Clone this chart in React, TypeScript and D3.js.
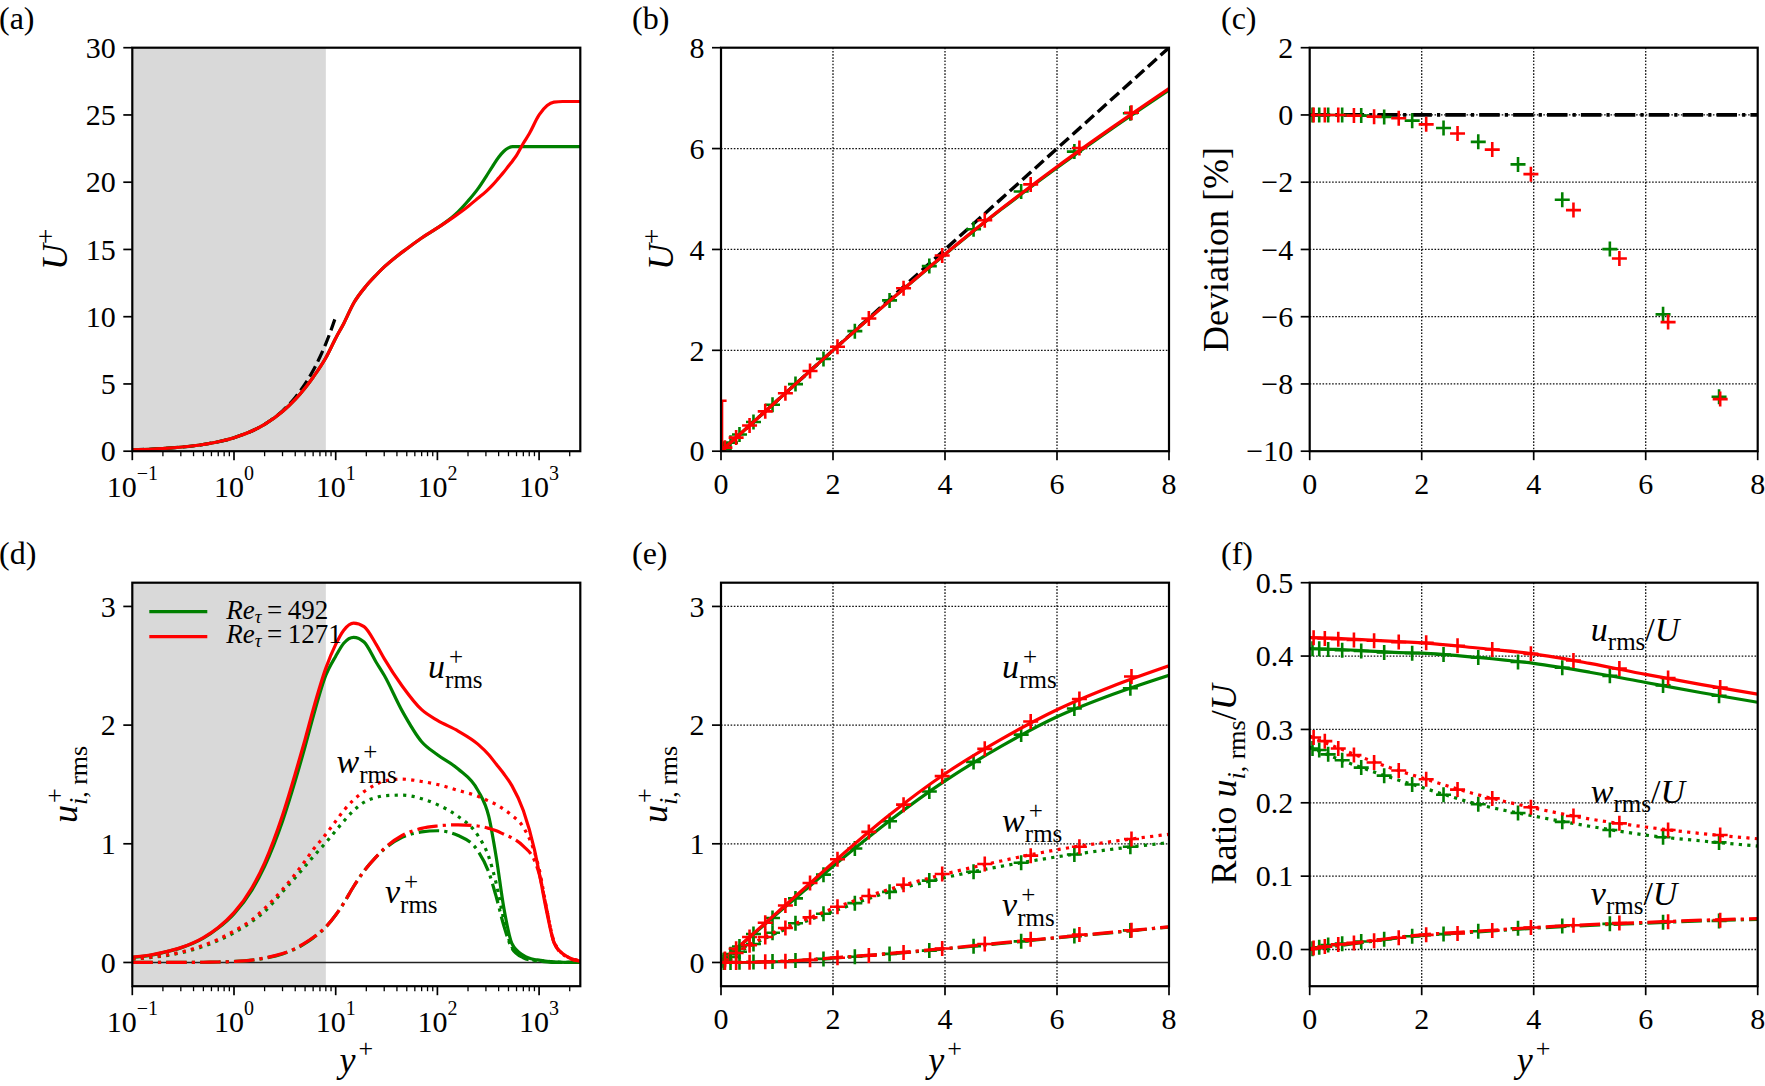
import React from 'react';
import * as d3 from 'd3';

// ================= DATA =================
// (a) mean velocity, log y+
const aYp = [0.1, 0.2, 0.5, 1, 2, 3, 4, 5, 6, 8, 10, 12, 15, 20, 25, 30, 40, 50, 70, 100, 150, 200, 250, 300, 350, 400, 450, 500, 550, 600, 700, 800, 1000, 1200, 1400, 1700, 2000, 2542];
const aU1271 = [0.1, 0.2, 0.5, 1.0, 1.99, 2.95, 3.85, 4.7, 5.5, 6.95, 8.4, 9.5, 11.0, 12.3, 13.1, 13.7, 14.5, 15.05, 15.85, 16.6, 17.5, 18.2, 18.8, 19.3, 19.8, 20.3, 20.75, 21.2, 21.6, 22.0, 22.9, 23.6, 25.0, 25.7, 25.95, 26.0, 26.0, 26.0];
const aU492 = [0.1, 0.2, 0.5, 1.0, 1.99, 2.95, 3.85, 4.7, 5.5, 6.95, 8.4, 9.5, 11.0, 12.3, 13.1, 13.7, 14.5, 15.05, 15.85, 16.6, 17.6, 18.6, 19.5, 20.4, 21.2, 21.85, 22.3, 22.55, 22.65, 22.65, 22.65, 22.65, 22.65, 22.65, 22.65, 22.65, 22.65, 22.65];
const sublayerY = [0.1, 0.2, 0.5, 1, 2, 3, 4, 5, 6, 7, 8, 9, 9.8];
const sublayerU = [0.1, 0.2, 0.5, 1, 2, 3, 4, 5, 6, 7, 8, 9, 9.8];

// (b) mean velocity, linear y+
const bY = [0, 1, 2, 3, 4, 5, 6, 7, 8];
const bU1271 = [0, 1.0, 2.0, 2.97, 3.91, 4.8, 5.64, 6.43, 7.19];
const bU492 = [0, 1.0, 2.0, 2.97, 3.9, 4.79, 5.62, 6.41, 7.16];
const bRefY = [0, 8];
const bRefU = [0, 8];
const bWallY = [0.1, 0.02, 0.02];
const bWallU = [1.0, 1.0, 0];

// grid-point markers
const mY492 = [0.05, 0.17, 0.33, 0.58, 0.92, 1.33, 1.83, 2.39, 3.01, 3.72, 4.51, 5.36, 6.31, 7.31];
const mY1271 = [0.07, 0.27, 0.51, 0.79, 1.15, 1.59, 2.08, 2.64, 3.26, 3.95, 4.71, 5.53, 6.4, 7.33];
const mU492 = [0.05, 0.17, 0.33, 0.58, 0.92, 1.33, 1.83, 2.38, 2.99, 3.67, 4.4, 5.15, 5.94, 6.7];
const mU1271 = [0.07, 0.27, 0.51, 0.79, 1.15, 1.59, 2.07, 2.63, 3.23, 3.88, 4.58, 5.29, 6.01, 6.71];

// (c) deviation [%]
const dev492 = [0, 0, 0, 0, -0.02, -0.06, -0.17, -0.39, -0.8, -1.47, -2.52, -3.99, -5.93, -8.38];
const dev1271 = [0, 0, 0, -0.02, -0.05, -0.1, -0.28, -0.55, -1.03, -1.76, -2.83, -4.27, -6.16, -8.45];
const cRefY = [0, 8];
const cRefDev = [0, 0];

// (d) rms, log y+
const dYp = [0.1, 0.15, 0.2, 0.3, 0.5, 0.7, 1, 1.5, 2, 3, 4, 5, 6, 8, 10, 12, 15, 19, 25, 30, 45, 70, 100, 160, 250, 320, 380, 450, 540, 700, 900, 1000, 1200, 1400, 1800, 2542];
const dU1271 = [0.045, 0.063, 0.085, 0.125, 0.21, 0.295, 0.42, 0.63, 0.84, 1.24, 1.59, 1.88, 2.13, 2.48, 2.68, 2.8, 2.86, 2.83, 2.68, 2.56, 2.33, 2.13, 2.04, 1.95, 1.84, 1.75, 1.67, 1.59, 1.49, 1.28, 0.95, 0.76, 0.41, 0.17, 0.06, 0.01];
const dU492 = [0.043, 0.06, 0.083, 0.123, 0.205, 0.29, 0.41, 0.61, 0.81, 1.19, 1.53, 1.82, 2.07, 2.42, 2.58, 2.69, 2.74, 2.7, 2.53, 2.42, 2.12, 1.86, 1.75, 1.63, 1.45, 1.23, 0.88, 0.46, 0.16, 0.06, 0.025, 0.02, 0.01, 0.005, 0.0, 0.0];
const dW1271 = [0.029, 0.044, 0.058, 0.087, 0.145, 0.195, 0.265, 0.36, 0.455, 0.615, 0.745, 0.855, 0.95, 1.08, 1.19, 1.28, 1.37, 1.44, 1.5, 1.53, 1.545, 1.525, 1.5, 1.45, 1.4, 1.36, 1.33, 1.29, 1.24, 1.14, 0.93, 0.79, 0.43, 0.18, 0.06, 0.015];
const dW492 = [0.027, 0.041, 0.054, 0.081, 0.135, 0.185, 0.25, 0.345, 0.43, 0.595, 0.715, 0.81, 0.89, 1.01, 1.11, 1.19, 1.28, 1.35, 1.39, 1.405, 1.41, 1.38, 1.33, 1.23, 1.07, 0.89, 0.66, 0.36, 0.13, 0.045, 0.02, 0.015, 0.01, 0.005, 0.0, 0.0];
const dV1271 = [0, 0, 0.0005, 0.001, 0.002, 0.004, 0.008, 0.02, 0.038, 0.075, 0.118, 0.165, 0.21, 0.3, 0.4, 0.5, 0.64, 0.77, 0.89, 0.96, 1.07, 1.13, 1.15, 1.16, 1.15, 1.13, 1.11, 1.08, 1.05, 0.98, 0.86, 0.75, 0.43, 0.17, 0.055, 0.01];
const dV492 = [0, 0, 0.0005, 0.001, 0.002, 0.004, 0.008, 0.019, 0.036, 0.072, 0.114, 0.16, 0.207, 0.298, 0.4, 0.5, 0.64, 0.77, 0.89, 0.955, 1.055, 1.1, 1.11, 1.07, 0.94, 0.76, 0.55, 0.31, 0.12, 0.04, 0.015, 0.01, 0.005, 0.0, 0.0, 0.0];

// (e) rms, linear y+
const eY = [0, 0.5, 1, 1.5, 2, 3, 4, 5, 6, 7, 8];
const eU1271 = [0, 0.21, 0.42, 0.63, 0.84, 1.24, 1.59, 1.88, 2.13, 2.33, 2.5];
const eU492 = [0, 0.205, 0.41, 0.61, 0.81, 1.19, 1.53, 1.82, 2.07, 2.26, 2.42];
const eW1271 = [0, 0.145, 0.265, 0.36, 0.455, 0.615, 0.745, 0.855, 0.95, 1.02, 1.08];
const eW492 = [0, 0.135, 0.25, 0.345, 0.43, 0.595, 0.715, 0.81, 0.89, 0.955, 1.01];
const eV1271 = [0, 0.002, 0.008, 0.02, 0.038, 0.075, 0.118, 0.165, 0.21, 0.255, 0.3];
const eV492 = [0, 0.002, 0.008, 0.019, 0.036, 0.072, 0.114, 0.16, 0.207, 0.252, 0.298];
const meU1271 = [0.03, 0.115, 0.215, 0.335, 0.48, 0.67, 0.87, 1.1, 1.33, 1.57, 1.8, 2.03, 2.22, 2.41];
const meU492 = [0.02, 0.07, 0.135, 0.24, 0.375, 0.54, 0.74, 0.96, 1.19, 1.44, 1.69, 1.92, 2.14, 2.31];
const meW1271 = [0.02, 0.08, 0.145, 0.215, 0.29, 0.38, 0.47, 0.56, 0.655, 0.745, 0.83, 0.9, 0.975, 1.04];
const meW492 = [0.014, 0.046, 0.09, 0.155, 0.25, 0.33, 0.41, 0.5, 0.595, 0.69, 0.765, 0.84, 0.91, 0.975];
const meV1271 = [0, 0, 0.002, 0.005, 0.01, 0.022, 0.04, 0.058, 0.085, 0.118, 0.155, 0.195, 0.235, 0.272];
const meV492 = [0, 0, 0.001, 0.003, 0.008, 0.016, 0.03, 0.048, 0.072, 0.1, 0.137, 0.178, 0.222, 0.27];

// (f) ratio u_i,rms / U
const fY = [0, 0.5, 1, 1.5, 2, 3, 4, 5, 6, 7, 8];
const fU1271 = [0.425, 0.424, 0.422, 0.42, 0.418, 0.411, 0.403, 0.39, 0.375, 0.361, 0.348];
const fU492 = [0.41, 0.409, 0.407, 0.405, 0.404, 0.398, 0.39, 0.378, 0.364, 0.35, 0.337];
const fW1271 = [0.291, 0.275, 0.26, 0.246, 0.234, 0.211, 0.193, 0.178, 0.167, 0.158, 0.151];
const fW492 = [0.276, 0.26, 0.246, 0.233, 0.221, 0.198, 0.182, 0.168, 0.156, 0.148, 0.141];
const fV1271 = [0, 0.006, 0.011, 0.016, 0.02, 0.025, 0.03, 0.034, 0.037, 0.04, 0.042];
const fV492 = [0, 0.005, 0.01, 0.015, 0.019, 0.024, 0.029, 0.033, 0.036, 0.039, 0.041];
const mfU1271 = [0.425, 0.424, 0.423, 0.422, 0.421, 0.419, 0.418, 0.414, 0.409, 0.403, 0.394, 0.383, 0.37, 0.357];
const mfU492 = [0.41, 0.41, 0.409, 0.408, 0.407, 0.405, 0.404, 0.402, 0.398, 0.392, 0.384, 0.373, 0.36, 0.346];
const mfW1271 = [0.289, 0.284, 0.274, 0.265, 0.255, 0.244, 0.232, 0.218, 0.206, 0.194, 0.182, 0.172, 0.163, 0.156];
const mfW492 = [0.274, 0.272, 0.266, 0.258, 0.248, 0.237, 0.225, 0.211, 0.198, 0.186, 0.174, 0.163, 0.153, 0.146];
const mfV1271 = [0.002, 0.004, 0.007, 0.009, 0.012, 0.016, 0.02, 0.022, 0.026, 0.03, 0.033, 0.036, 0.038, 0.04];
const mfV492 = [0.001, 0.003, 0.006, 0.008, 0.011, 0.014, 0.018, 0.021, 0.025, 0.029, 0.032, 0.035, 0.037, 0.039];

// tick labels
const linXTicks = [0, 2, 4, 6, 8];
const aYTicks = [0, 5, 10, 15, 20, 25, 30];
const bYTicks = [0, 2, 4, 6, 8];
const cYTicks = [2, 0, -2, -4, -6, -8, -10];
const dYTicks = [0, 1, 2, 3];
const fYTicks = [0, 0.1, 0.2, 0.3, 0.4, 0.5];
const legendLabels = ['492', '1271'];
const panelLetters = ['(a)', '(b)', '(c)', '(d)', '(e)', '(f)'];

// ================= STYLE / LAYOUT =================
const FONT = '"Liberation Serif", "DejaVu Serif", serif';
const GREEN = '#008000';
const RED = '#ff0000';
const W = 1765, H = 1086;
const COL_X = [132.3, 721, 1309.7];
const ROW_Y = [47.7, 582.7];
const LETTER_X = [-1, 632, 1221];
const PW = 448, PH = 403.5;
const TICK_FS = 30, LOG_FS = 30, LAB_FS = 36, ANN_FS = 34, LEG_FS = 27, PANEL_FS = 32;
const LW = 3.2;
const DASHED = '11.8,5.1';
const DOTTED = '3.2,5.3';
const DASHDOT = '20.5,5.1,3.2,5.1';
const SHADE = '#d9d9d9';
const TXT = { fontFamily: FONT };

const xLog = d3.scaleLog().domain([0.1, 2542]).range([0, PW]);
const xLin = d3.scaleLinear().domain([0, 8]).range([0, PW]);
const yA = d3.scaleLinear().domain([0, 30]).range([PH, 0]);
const yB = d3.scaleLinear().domain([0, 8]).range([PH, 0]);
const yC = d3.scaleLinear().domain([-10, 2]).range([PH, 0]);
const yD = d3.scaleLinear().domain([-0.2, 3.2]).range([PH, 0]);
const yF = d3.scaleLinear().domain([-0.05, 0.5]).range([PH, 0]);

const fmtMinus = (v: number, digits = 0) => v.toFixed(digits).replace('-', '\u2212');

function Curve({ xs, ys, sx, sy, color, dash, width = LW }: any) {
  const gen = d3
    .line<number>()
    .x((_, i) => sx(xs[i]))
    .y((_, i) => sy(ys[i]))
    .curve(d3.curveMonotoneX);
  return <path d={gen(xs) || ''} fill="none" stroke={color} strokeWidth={width} strokeDasharray={dash} />;
}

function Pluses({ xs, ys, sx, sy, color }: any) {
  const s = 7.5;
  const d = xs
    .map((x: number, i: number) => {
      const px = sx(x), py = sy(ys[i]);
      return `M${px - s},${py}H${px + s}M${px},${py - s}V${py + s}`;
    })
    .join('');
  return <path d={d} fill="none" stroke={color} strokeWidth={2.6} />;
}

function Panel(p: any) {
  const x0 = COL_X[p.col], y0 = ROW_Y[p.row];
  const isLog = !!p.logx;
  const xt: number[] = isLog ? xLog.ticks() : linXTicks;
  const cy = PH / 2;
  return (
    <g>
      <text x={LETTER_X[p.col]} y={y0 - 19} fontSize={PANEL_FS} style={TXT}>
        {p.letter}
      </text>
      <g transform={`translate(${x0},${y0})`}>
        <clipPath id={p.id}>
          <rect x={0} y={0} width={PW} height={PH} />
        </clipPath>
        <g clipPath={`url(#${p.id})`}>
          {p.back}
          {(p.gridX || []).map((v: number) => (
            <line key={'gx' + v} x1={p.sx(v)} x2={p.sx(v)} y1={0} y2={PH} stroke="#111" strokeWidth={1.3} strokeDasharray="1.6,1.6" />
          ))}
          {(p.gridY || []).map((v: number) => (
            <line key={'gy' + v} x1={0} x2={PW} y1={p.sy(v)} y2={p.sy(v)} stroke="#111" strokeWidth={1.3} strokeDasharray="1.6,1.6" />
          ))}
          {p.children}
        </g>
        <rect x={0} y={0} width={PW} height={PH} fill="none" stroke="#000" strokeWidth={2.2} />
        {xt.map((v) => {
          const major = isLog ? Math.abs(Math.log10(v) - Math.round(Math.log10(v))) < 1e-9 : true;
          const px = p.sx(v);
          return (
            <g key={'xt' + v}>
              <line x1={px} x2={px} y1={PH} y2={PH + (major ? 9 : 5)} stroke="#000" strokeWidth={major ? 1.7 : 1.3} />
              {major &&
                (isLog ? (
                  <text x={px} y={PH + 45.5} fontSize={LOG_FS} textAnchor="middle" style={TXT}>
                    <tspan>10</tspan>
                    <tspan fontSize={20} dy={-17}>
                      {fmtMinus(Math.round(Math.log10(v)))}
                    </tspan>
                  </text>
                ) : (
                  <text x={px} y={PH + 42.5} fontSize={TICK_FS} textAnchor="middle" style={TXT}>
                    {String(v)}
                  </text>
                ))}
            </g>
          );
        })}
        {p.yTicks.map((v: number) => (
          <g key={'yt' + v}>
            <line x1={-9} x2={0} y1={p.sy(v)} y2={p.sy(v)} stroke="#000" strokeWidth={1.7} />
            <text x={-16.5} y={p.sy(v) + TICK_FS * 0.34} fontSize={TICK_FS} textAnchor="end" style={TXT}>
              {fmtMinus(v, p.yDigits || 0)}
            </text>
          </g>
        ))}
        <text transform={`translate(${-p.yLabelDx},${cy}) rotate(-90)`} fontSize={LAB_FS} textAnchor="middle" style={TXT}>
          {p.yLabel}
        </text>
        {p.xLabel && (
          <text x={PW / 2} y={PH + 86} fontSize={LAB_FS} textAnchor="middle" style={TXT}>
            <tspan fontStyle="italic">y</tspan>
            <tspan fontSize={26} dy={-15} dx={3}>+</tspan>
          </text>
        )}
        {p.annotations}
      </g>
    </g>
  );
}

const UPlusLabel = (
  <>
    <tspan fontStyle="italic">U</tspan>
    <tspan fontSize={27} dy={-12}>+</tspan>
  </>
);

const UiRmsLabel = (
  <>
    <tspan fontStyle="italic">u</tspan>
    <tspan fontSize={26} dy={-14} dx={2}>+</tspan>
    <tspan fontSize={26} dx={-0.564 * 26 - 2} dy={24} fontStyle="italic">i</tspan>
    <tspan fontSize={26}>, rms</tspan>
  </>
);

const RatioLabel = (
  <>
    <tspan>Ratio </tspan>
    <tspan fontStyle="italic">u</tspan>
    <tspan fontSize={26} dy={9} fontStyle="italic">i</tspan>
    <tspan fontSize={26}>, rms</tspan>
    <tspan dy={-9}>/</tspan>
    <tspan fontStyle="italic">U</tspan>
  </>
);

function RmsPlus({ x, y, letter }: any) {
  const s = 25;
  return (
    <text x={x} y={y} fontSize={ANN_FS} style={TXT}>
      <tspan fontStyle="italic">{letter}</tspan>
      <tspan fontSize={s} dy={-13} dx={4}>+</tspan>
      <tspan fontSize={s} dx={-0.564 * s - 4} dy={23}>rms</tspan>
    </text>
  );
}

function RmsRatio({ x, y, letter }: any) {
  const s = 25;
  return (
    <text x={x} y={y} fontSize={ANN_FS} style={TXT}>
      <tspan fontStyle="italic">{letter}</tspan>
      <tspan fontSize={s} dy={9}>rms</tspan>
      <tspan dy={-9}>/</tspan>
      <tspan fontStyle="italic">U</tspan>
    </text>
  );
}

export default function App() {
  const shadeA = <rect x={0} y={0} width={xLog(8)} height={PH} fill={SHADE} />;
  return (
    <svg
      width={W}
      height={H}
      viewBox={`0 0 ${W} ${H}`}
      style={{ position: 'absolute', left: 0, top: 0, display: 'block', fontFamily: FONT }}
    >
      <rect x={0} y={0} width={W} height={H} fill="#fff" />

      {/* (a) */}
      <Panel id="ca" col={0} row={0} letter={panelLetters[0]} sx={xLog} sy={yA} logx yTicks={aYTicks} yLabel={UPlusLabel} yLabelDx={65} back={shadeA}>
        <Curve xs={sublayerY} ys={sublayerU} sx={xLog} sy={yA} color="#000" dash={DASHED} />
        <Curve xs={aYp} ys={aU492} sx={xLog} sy={yA} color={GREEN} />
        <Curve xs={aYp} ys={aU1271} sx={xLog} sy={yA} color={RED} />
      </Panel>

      {/* (b) */}
      <Panel id="cb" col={1} row={0} letter={panelLetters[1]} sx={xLin} sy={yB} yTicks={bYTicks} yLabel={UPlusLabel} yLabelDx={48} gridX={[2, 4, 6]} gridY={[2, 4, 6]}>
        <Curve xs={bRefY} ys={bRefU} sx={xLin} sy={yB} color="#000" dash={DASHED} width={3.4} />
        <Curve xs={bY} ys={bU492} sx={xLin} sy={yB} color={GREEN} />
        <Pluses xs={mY492} ys={mU492} sx={xLin} sy={yB} color={GREEN} />
        <Curve xs={bY} ys={bU1271} sx={xLin} sy={yB} color={RED} />
        <path
          d={d3.line<number>().x((_, i) => xLin(bWallY[i])).y((_, i) => yB(bWallU[i]))(bWallY) || ''}
          fill="none"
          stroke={RED}
          strokeWidth={2.4}
        />
        <Pluses xs={mY1271} ys={mU1271} sx={xLin} sy={yB} color={RED} />
      </Panel>

      {/* (c) */}
      <Panel
        id="cc"
        col={2}
        row={0}
        letter={panelLetters[2]}
        sx={xLin}
        sy={yC}
        yTicks={cYTicks}
        yLabel={<tspan>Deviation [%]</tspan>}
        yLabelDx={82}
        gridX={[2, 4, 6]}
        gridY={[-8, -6, -4, -2, 0]}
      >
        <Curve xs={cRefY} ys={cRefDev} sx={xLin} sy={yC} color="#000" dash={DASHDOT} width={3.8} />
        <Pluses xs={mY492} ys={dev492} sx={xLin} sy={yC} color={GREEN} />
        <Pluses xs={mY1271} ys={dev1271} sx={xLin} sy={yC} color={RED} />
      </Panel>

      {/* (d) */}
      <Panel
        id="cd"
        col={0}
        row={1}
        letter={panelLetters[3]}
        sx={xLog}
        sy={yD}
        logx
        yTicks={dYTicks}
        yLabel={UiRmsLabel}
        yLabelDx={55}
        xLabel
        back={shadeA}
        annotations={
          <>
            <RmsPlus x={xLog(81)} y={yD(2.4)} letter="u" />
            <RmsPlus x={xLog(10.2)} y={yD(1.6)} letter="w" />
            <RmsPlus x={xLog(30.5)} y={yD(0.5)} letter="v" />
            <line x1={17} x2={75} y1={29} y2={29} stroke={GREEN} strokeWidth={LW} />
            <line x1={17} x2={75} y1={54} y2={54} stroke={RED} strokeWidth={LW} />
            {legendLabels.map((lab, i) => (
              <text key={lab} x={94} y={36.7 + i * 24} fontSize={LEG_FS} style={TXT}>
                <tspan fontStyle="italic">Re</tspan>
                <tspan fontStyle="italic" fontSize={19} dy={4}>τ</tspan>
                <tspan dy={-4}>{'\u2009=\u2009' + lab}</tspan>
              </text>
            ))}
          </>
        }
      >
        <line x1={0} x2={PW} y1={yD(0)} y2={yD(0)} stroke="#222" strokeWidth={1.5} />
        <Curve xs={dYp} ys={dU492} sx={xLog} sy={yD} color={GREEN} />
        <Curve xs={dYp} ys={dU1271} sx={xLog} sy={yD} color={RED} />
        <Curve xs={dYp} ys={dW492} sx={xLog} sy={yD} color={GREEN} dash={DOTTED} />
        <Curve xs={dYp} ys={dW1271} sx={xLog} sy={yD} color={RED} dash={DOTTED} />
        <Curve xs={dYp} ys={dV492} sx={xLog} sy={yD} color={GREEN} dash={DASHDOT} />
        <Curve xs={dYp} ys={dV1271} sx={xLog} sy={yD} color={RED} dash={DASHDOT} />
      </Panel>

      {/* (e) */}
      <Panel
        id="ce"
        col={1}
        row={1}
        letter={panelLetters[4]}
        sx={xLin}
        sy={yD}
        yTicks={dYTicks}
        yLabel={UiRmsLabel}
        yLabelDx={54}
        xLabel
        gridX={[2, 4, 6]}
        gridY={[1, 2, 3]}
        annotations={
          <>
            <RmsPlus x={xLin(5.02)} y={yD(2.4)} letter="u" />
            <RmsPlus x={xLin(5.02)} y={yD(1.1)} letter="w" />
            <RmsPlus x={xLin(5.02)} y={yD(0.39)} letter="v" />
          </>
        }
      >
        <line x1={0} x2={PW} y1={yD(0)} y2={yD(0)} stroke="#222" strokeWidth={1.5} />
        <Curve xs={eY} ys={eU492} sx={xLin} sy={yD} color={GREEN} />
        <Pluses xs={mY492} ys={meU492} sx={xLin} sy={yD} color={GREEN} />
        <Curve xs={eY} ys={eU1271} sx={xLin} sy={yD} color={RED} />
        <Pluses xs={mY1271} ys={meU1271} sx={xLin} sy={yD} color={RED} />
        <Curve xs={eY} ys={eW492} sx={xLin} sy={yD} color={GREEN} dash={DOTTED} />
        <Pluses xs={mY492} ys={meW492} sx={xLin} sy={yD} color={GREEN} />
        <Curve xs={eY} ys={eW1271} sx={xLin} sy={yD} color={RED} dash={DOTTED} />
        <Pluses xs={mY1271} ys={meW1271} sx={xLin} sy={yD} color={RED} />
        <Curve xs={eY} ys={eV492} sx={xLin} sy={yD} color={GREEN} dash={DASHDOT} />
        <Pluses xs={mY492} ys={meV492} sx={xLin} sy={yD} color={GREEN} />
        <Curve xs={eY} ys={eV1271} sx={xLin} sy={yD} color={RED} dash={DASHDOT} />
        <Pluses xs={mY1271} ys={meV1271} sx={xLin} sy={yD} color={RED} />
      </Panel>

      {/* (f) */}
      <Panel
        id="cf"
        col={2}
        row={1}
        letter={panelLetters[5]}
        sx={xLin}
        sy={yF}
        yTicks={fYTicks}
        yDigits={1}
        yLabel={RatioLabel}
        yLabelDx={74}
        xLabel
        gridX={[2, 4, 6]}
        gridY={[0, 0.1, 0.2, 0.3, 0.4]}
        annotations={
          <>
            <RmsRatio x={xLin(5.02)} y={yF(0.421)} letter="u" />
            <RmsRatio x={xLin(5.02)} y={yF(0.2)} letter="w" />
            <RmsRatio x={xLin(5.02)} y={yF(0.06)} letter="v" />
          </>
        }
      >
        <Curve xs={fY} ys={fU492} sx={xLin} sy={yF} color={GREEN} />
        <Pluses xs={mY492} ys={mfU492} sx={xLin} sy={yF} color={GREEN} />
        <Curve xs={fY} ys={fU1271} sx={xLin} sy={yF} color={RED} />
        <Pluses xs={mY1271} ys={mfU1271} sx={xLin} sy={yF} color={RED} />
        <Curve xs={fY} ys={fW492} sx={xLin} sy={yF} color={GREEN} dash={DOTTED} />
        <Pluses xs={mY492} ys={mfW492} sx={xLin} sy={yF} color={GREEN} />
        <Curve xs={fY} ys={fW1271} sx={xLin} sy={yF} color={RED} dash={DOTTED} />
        <Pluses xs={mY1271} ys={mfW1271} sx={xLin} sy={yF} color={RED} />
        <Curve xs={fY} ys={fV492} sx={xLin} sy={yF} color={GREEN} dash={DASHDOT} />
        <Pluses xs={mY492} ys={mfV492} sx={xLin} sy={yF} color={GREEN} />
        <Curve xs={fY} ys={fV1271} sx={xLin} sy={yF} color={RED} dash={DASHDOT} />
        <Pluses xs={mY1271} ys={mfV1271} sx={xLin} sy={yF} color={RED} />
      </Panel>
    </svg>
  );
}
